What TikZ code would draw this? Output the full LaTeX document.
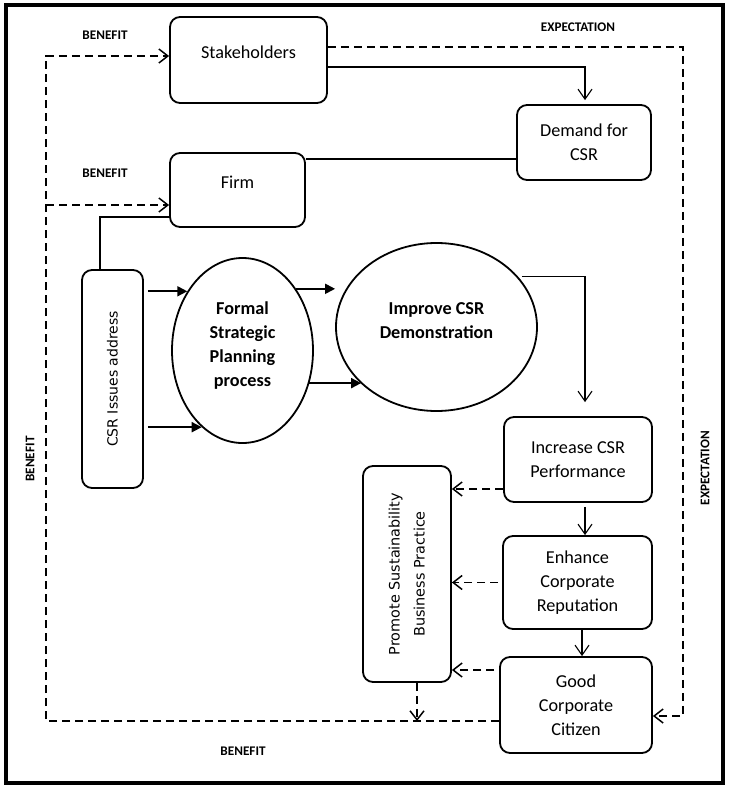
\documentclass[tikz,border=0pt]{standalone}
\usepackage{fontspec}
\setmainfont{Carlito}
\setsansfont{DejaVu Sans}
\usepackage{tikz}
\usetikzlibrary{arrows.meta,shapes.geometric}
\tikzset{
    stepbox/.style={draw, line width=0.9pt, rounded corners=5pt, align=center, inner sep=2pt, font=\fontsize{9.1}{12}\selectfont},
    oval/.style={draw, ellipse, line width=0.9pt, align=center, inner sep=0pt, font=\fontsize{9.1}{12}\selectfont\bfseries},
    tag/.style={font=\fontsize{6.6}{8}\selectfont\bfseries},
    link/.style={line width=0.55pt},
    openhead/.style={link, -{Straight Barb[length=5pt,width=7pt]}},
    boldhead/.style={line width=0.9pt, -{Triangle[length=5pt,width=5pt]}},
    dashlink/.style={line width=0.75pt, dash pattern=on 4pt off 2.5pt},
    dashhead/.style={dashlink, -{Straight Barb[length=4.5pt,width=7pt]}},
}
\begin{document}
\begin{tikzpicture}[x=0.5pt, y=-0.5pt]
\useasboundingbox (0,0) rectangle (729,786);
\draw[line width=1.6pt] (6,5) rectangle (723,783);
\node[stepbox, minimum width=78.5pt, minimum height=43pt, text depth=8pt] (stake) at (248.5,60) {Stakeholders};
\node[stepbox, minimum width=67pt, minimum height=37.5pt] (demand) at (584,142.5) {Demand for\\CSR};
\node[stepbox, minimum width=67.5pt, minimum height=37pt, text depth=8pt] (firm) at (237.5,190) {Firm};
\node[stepbox, minimum width=30.5pt, minimum height=109pt] (csr) at (112.5,379) {\rotatebox{90}{\sffamily\fontsize{7}{9}\selectfont CSR Issues address}};
\node[oval, minimum width=70.5pt, minimum height=92.5pt, text depth=6pt] (fspp) at (242.5,350.5) {Formal\\Strategic\\Planning\\process};
\node[oval, minimum width=100.5pt, minimum height=84pt, text depth=6pt] (icsr) at (436.5,327) {Improve CSR\\Demonstration};
\node[stepbox, minimum width=74pt, minimum height=42.5pt] (incr) at (578,459.5) {Increase CSR\\Performance};
\node[stepbox, minimum width=44pt, minimum height=108pt] (promote) at (407,574) {\rotatebox{90}{\sffamily\fontsize{7.2}{12.5}\selectfont\begin{tabular}{@{}c@{}}Promote Sustainability\\Business Practice\end{tabular}}};
\node[stepbox, minimum width=74.5pt, minimum height=46.5pt] (enh) at (577.5,582.5) {Enhance\\Corporate\\Reputation};
\node[stepbox, minimum width=76pt, minimum height=48pt] (good) at (576,705) {Good\\Corporate\\Citizen};
\node[tag] (ben1) at (105,35) {BENEFIT};
\node[tag] (ben2) at (105,173) {BENEFIT};
\node[tag, rotate=90] (ben3) at (30,459) {BENEFIT};
\node[tag] (ben4) at (243,751) {BENEFIT};
\node[tag] (exp1) at (578,27) {EXPECTATION};
\node[tag, rotate=90] (exp2) at (705,468) {EXPECTATION};
\coordinate (eTop) at (683,47);
\coordinate (eBot) at (683,716);
\coordinate (bTop) at (46,56);
\coordinate (bMid) at (46,205);
\coordinate (bBot) at (46,721);
\coordinate (firmLow) at ([yshift=-13.5pt]firm.west);
\coordinate (firmHigh) at ([yshift=15.5pt]firm.east);
\coordinate (incrLow) at ([yshift=-14.75pt]incr.west);
\coordinate (goodHigh) at ([yshift=17.5pt]good.west);
\coordinate (promFoot) at ([xshift=5pt]promote.south);
\coordinate (incrFoot) at ([xshift=3.5pt]incr.south);
\coordinate (enhFoot) at ([xshift=2.25pt]enh.south);
\draw[dashhead] (stake.east |- eTop)--(eTop)--(eBot)--(good.east |- eBot);
\draw[dashhead] (good.west |- bBot)--(bBot)--(bTop)--(stake.west |- bTop);
\draw[dashhead] (bMid)--(bMid -| firm.west);
\draw[openhead, shorten >=2pt] ([yshift=-3.5pt]stake.east) -| ([xshift=0.5pt]demand.north);
\draw[link] (firmHigh)--(firmHigh -| demand.west);
\draw[link] (firmLow) -| ([xshift=-6.25pt]csr.north);
\draw[boldhead, shorten <=2pt] (csr.east |- fspp.133)--(fspp.133);
\draw[boldhead, shorten <=2pt] (csr.east |- fspp.242)--(fspp.242);
\draw[boldhead] (fspp.49)--(fspp.49 -| icsr.west);
\draw[boldhead] (fspp.334)--(fspp.334 -| icsr.217);
\draw[openhead, shorten <=2pt, shorten >=7pt] (icsr.32) -| ([xshift=3.5pt]incr.north);
\draw[openhead, shorten <=2pt] (incrFoot)--(incrFoot |- enh.north);
\draw[openhead] (enhFoot)--(enhFoot |- good.north);
\draw[dashhead] (incrLow)--(incrLow -| promote.east);
\draw[dashhead] ([xshift=-2pt]enh.west)--(enh.west -| promote.east);
\draw[dashhead] ([xshift=-2.5pt]goodHigh)--(goodHigh -| promote.east);
\draw[dashhead] (promFoot)--(promFoot |- bBot);
\end{tikzpicture}
\end{document}
